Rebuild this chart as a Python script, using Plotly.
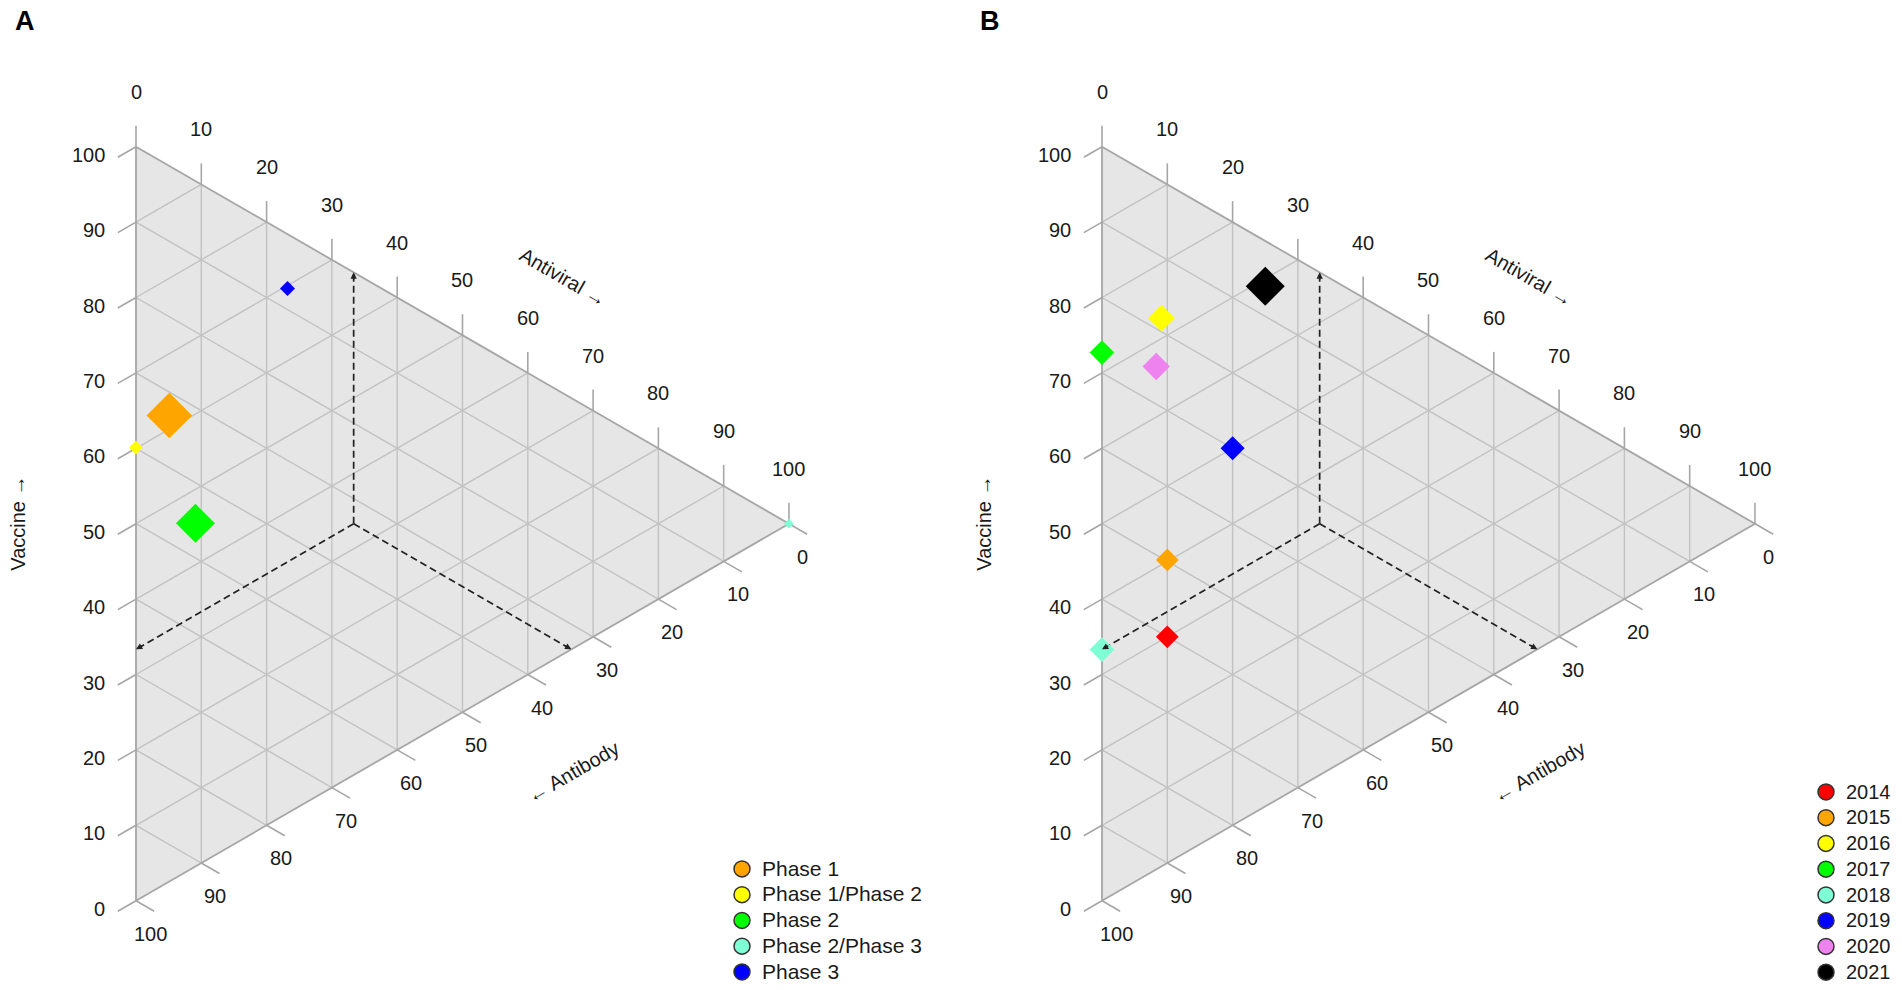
import numpy as np
import plotly.graph_objects as go

# ---- data (% of records: vaccine / antiviral / antibody) ----
phases = ["Phase 1", "Phase 1/Phase 2", "Phase 2", "Phase 2/Phase 3", "Phase 3"]
phase_vaccine = [61.8, 60.1, 45.5, 0.0, 69.6]
phase_antiviral = [5.1, 0.0, 9.1, 100.0, 23.2]
phase_antibody = [33.1, 39.9, 45.4, 0.0, 7.2]
phase_size = [35, 10.5, 30, 7.5, 11.5]
phase_colors = ["#FFA500", "#FFFF00", "#00FF00", "#7FFFD4", "#0000FF"]

years = ["2014", "2015", "2016", "2017", "2018", "2019", "2020", "2021"]
year_vaccine = [30.0, 40.2, 72.7, 72.7, 33.3, 50.0, 66.7, 69.0]
year_antiviral = [10.0, 10.0, 9.1, 0.0, 0.0, 20.0, 8.3, 25.0]
year_antibody = [60.0, 49.8, 18.2, 27.3, 66.7, 30.0, 25.0, 6.0]
year_size = [17.5, 17.5, 20.5, 19, 19, 18.5, 21, 30]
year_colors = ["#FF0000", "#FFA500", "#FFFF00", "#00FF00", "#7FFFD4",
               "#0000FF", "#EE82EE", "#000000"]

tick_values = list(range(0, 101, 10))
centre = [100 / 3, 100 / 3, 100 / 3]

# ---- layout constants ----
FIG_W, FIG_H = 1902, 990
Y_TOP, SIDE = 146.7, 754.0
WIDTH = SIDE * np.sqrt(3) / 2
FONT = "Liberation Sans, Arial, sans-serif"
TXT = "#1a1a1a"
GRID = "#c2c2c2"
EDGE = "#a6a6a6"
C30, S30 = np.cos(np.pi / 6), 0.5


def to_xy(x0, vaccine, antiviral, antibody):
    """ternary (vaccine, antiviral, antibody) -> page position of a panel"""
    v = np.asarray(vaccine, float)
    av = np.asarray(antiviral, float)
    ab = np.asarray(antibody, float)
    tot = v + av + ab
    av, ab = av / tot * 100, ab / tot * 100
    return x0 + av / 100 * WIDTH, Y_TOP + SIDE * (ab + av / 2) / 100


def segments(segs):
    xs, ys = [], []
    for (xa, ya), (xb, yb) in segs:
        xs += [xa, xb, None]
        ys += [ya, yb, None]
    return xs, ys


def pt(x0, v, av, ab):
    x, y = to_xy(x0, v, av, ab)
    return float(x), float(y)


fig = go.Figure()


def draw_frame(x0):
    # background triangle
    tx, ty = to_xy(x0, [100, 0, 0, 100], [0, 100, 0, 0], [0, 0, 100, 0])
    fig.add_scatter(x=tx, y=ty, mode="lines", fill="toself", fillcolor="#e6e6e6",
                    line=dict(color=EDGE, width=0), hoverinfo="skip", showlegend=False)
    # grid
    segs = []
    for k in tick_values[1:-1]:
        segs.append((pt(x0, 100 - k, k, 0), pt(x0, 0, k, 100 - k)))
        segs.append((pt(x0, k, 0, 100 - k), pt(x0, k, 100 - k, 0)))
        segs.append((pt(x0, 100 - k, 0, k), pt(x0, 0, 100 - k, k)))
    gx, gy = segments(segs)
    fig.add_scatter(x=gx, y=gy, mode="lines", line=dict(color=GRID, width=1.4),
                    hoverinfo="skip", showlegend=False)
    # outline
    fig.add_scatter(x=tx, y=ty, mode="lines", line=dict(color=EDGE, width=1.8),
                    hoverinfo="skip", showlegend=False)
    # ticks and tick labels
    segs = []
    tl = 21
    for k in tick_values:
        xa, ya = pt(x0, 100 - k, k, 0)            # antiviral, top edge
        segs.append(((xa, ya), (xa, ya - tl)))
        fig.add_annotation(x=xa, y=ya - 55, text=str(k))
        xv, yv = pt(x0, k, 0, 100 - k)            # vaccine, left edge
        segs.append(((xv, yv), (xv - tl * C30, yv + tl * S30)))
        fig.add_annotation(x=xv - 29, y=yv + 8, text=str(k), xanchor="right")
        xb, yb = pt(x0, 0, 100 - k, k)            # antibody, lower edge
        segs.append(((xb, yb), (xb + tl * C30, yb + tl * S30)))
        fig.add_annotation(x=xb + 14, y=yb + 33, text=str(k))
    kx, ky = segments(segs)
    fig.add_scatter(x=kx, y=ky, mode="lines", line=dict(color=EDGE, width=1.6),
                    hoverinfo="skip", showlegend=False)
    # axis titles
    fig.add_annotation(x=x0 + 427, y=277, text="Antiviral \u2192", textangle=30)
    fig.add_annotation(x=x0 + 437, y=772, text="\u2190 Antibody", textangle=-30)
    fig.add_annotation(x=x0 - 118, y=Y_TOP + SIDE / 2, text="Vaccine \u2192", textangle=-90)
    # dashed guide lines through the centre
    cx, cy = pt(x0, *centre)
    ends = [pt(x0, 100 - centre[1], centre[1], 0),
            pt(x0, centre[0], 0, 100 - centre[0]),
            pt(x0, 0, 100 - centre[2], centre[2])]
    dx, dy = segments([((cx, cy), e) for e in ends])
    fig.add_scatter(x=dx, y=dy, mode="lines",
                    line=dict(color="#222222", width=1.7, dash="7px,4px"),
                    hoverinfo="skip", showlegend=False)
    for ex, ey in ends:
        d = np.hypot(ex - cx, ey - cy)
        fig.add_annotation(x=ex, y=ey, ax=ex - (ex - cx) / d * 9, ay=ey - (ey - cy) / d * 9,
                           axref="x", ayref="y", text="", showarrow=True, arrowhead=2,
                           arrowsize=0.9, arrowwidth=1.4, arrowcolor="#222222", standoff=0)


def draw_points(x0, names, v, av, ab, sizes, colors, legend, label_px):
    x, y = to_xy(x0, v, av, ab)
    for i, name in enumerate(names):
        fig.add_scatter(x=[x[i]], y=[y[i]], mode="markers", name=name, showlegend=False,
                        marker=dict(symbol="diamond", size=sizes[i], color=colors[i],
                                    line=dict(width=0)))
    for i, name in enumerate(names):
        # legend rows are tight in the original, so the row height follows the
        # (small) legend font while the label itself is drawn larger
        fig.add_scatter(x=[None], y=[None], mode="markers", legend=legend,
                        name=f"<span style='font-size:{label_px}px'>{name}</span>",
                        marker=dict(symbol="circle", size=16, color=colors[i],
                                    line=dict(color="#333333", width=1.5)))


draw_frame(136.0)
draw_frame(1102.0)
draw_points(136.0, phases, phase_vaccine, phase_antiviral, phase_antibody,
            phase_size, phase_colors, "legend", 21)
draw_points(1102.0, years, year_vaccine, year_antiviral, year_antibody,
            year_size, year_colors, "legend2", 20)

fig.update_annotations(xref="x", yref="y", font=dict(family=FONT, size=20, color=TXT))
for ann in fig.layout.annotations:
    if ann.showarrow is None:
        ann.showarrow = False

fig.add_annotation(x=13, y=21, xref="x", yref="y", text="<b>A</b>", showarrow=False,
                   xanchor="left", font=dict(family=FONT, size=27, color="#000"))
fig.add_annotation(x=978, y=21, xref="x", yref="y", text="<b>B</b>", showarrow=False,
                   xanchor="left", font=dict(family=FONT, size=27, color="#000"))

legend_style = dict(xanchor="left", yanchor="bottom", y=0, bgcolor="rgba(0,0,0,0)",
                    font=dict(family=FONT, size=17.5, color=TXT), tracegroupgap=0)
fig.update_layout(
    width=FIG_W, height=FIG_H,
    margin=dict(l=0, r=0, t=0, b=0),
    paper_bgcolor="white", plot_bgcolor="white",
    xaxis=dict(range=[0, FIG_W], visible=False, domain=[0, 1]),
    yaxis=dict(range=[FIG_H, 0], visible=False, domain=[0, 1]),
    legend=dict(x=722 / FIG_W, **legend_style),
    legend2=dict(x=1806 / FIG_W, **legend_style),
)

fig.write_html("out.html", config={"displayModeBar": False},
               post_script="document.body.style.margin='0';")
